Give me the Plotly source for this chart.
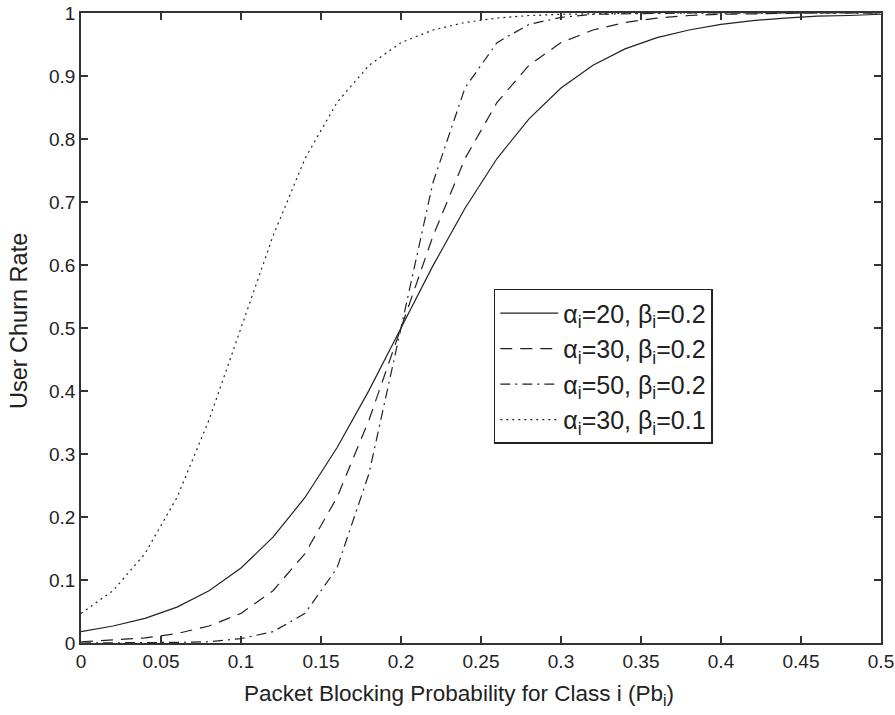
import plotly.graph_objects as go

# Data
pb = [0.00, 0.02, 0.04, 0.06, 0.08, 0.10, 0.12, 0.14, 0.16, 0.18, 0.20, 0.22, 0.24,
      0.26, 0.28, 0.30, 0.32, 0.34, 0.36, 0.38, 0.40, 0.42, 0.44, 0.46, 0.48, 0.50]

churn_a20_b02 = [0.018, 0.027, 0.039, 0.057, 0.083, 0.119, 0.168, 0.231, 0.310, 0.401,
                 0.500, 0.599, 0.690, 0.769, 0.832, 0.881, 0.917, 0.943, 0.961, 0.973,
                 0.982, 0.988, 0.992, 0.995, 0.996, 0.998]
churn_a30_b02 = [0.002, 0.005, 0.008, 0.015, 0.027, 0.047, 0.083, 0.142, 0.231, 0.354,
                 0.500, 0.646, 0.769, 0.858, 0.917, 0.953, 0.973, 0.985, 0.992, 0.996,
                 0.998, 0.999, 0.999, 1.000, 1.000, 1.000]
churn_a50_b02 = [0.000, 0.000, 0.000, 0.001, 0.002, 0.007, 0.018, 0.047, 0.119, 0.269,
                 0.500, 0.731, 0.881, 0.953, 0.982, 0.993, 0.998, 0.999, 1.000, 1.000,
                 1.000, 1.000, 1.000, 1.000, 1.000, 1.000]
churn_a30_b01 = [0.047, 0.083, 0.142, 0.231, 0.354, 0.500, 0.646, 0.769, 0.858, 0.917,
                 0.953, 0.973, 0.985, 0.992, 0.996, 0.998, 0.999, 0.999, 1.000, 1.000,
                 1.000, 1.000, 1.000, 1.000, 1.000, 1.000]

series_names = ["α<sub>i</sub>=20, β<sub>i</sub>=0.2",
                "α<sub>i</sub>=30, β<sub>i</sub>=0.2",
                "α<sub>i</sub>=50, β<sub>i</sub>=0.2",
                "α<sub>i</sub>=30, β<sub>i</sub>=0.1"]
series_values = [churn_a20_b02, churn_a30_b02, churn_a50_b02, churn_a30_b01]
series_dash = ["solid", "12px,8px", "10px,5px,2px,5px", "2px,4px"]

x_ticks = [0, 0.05, 0.1, 0.15, 0.2, 0.25, 0.3, 0.35, 0.4, 0.45, 0.5]
x_ticklabels = ["0", "0.05", "0.1", "0.15", "0.2", "0.25", "0.3", "0.35", "0.4", "0.45", "0.5"]
y_ticks = [0, 0.1, 0.2, 0.3, 0.4, 0.5, 0.6, 0.7, 0.8, 0.9, 1]
y_ticklabels = ["0", "0.1", "0.2", "0.3", "0.4", "0.5", "0.6", "0.7", "0.8", "0.9", "1"]

x_title = "Packet Blocking Probability for Class i (Pb<sub>i</sub>)"
y_title = "User Churn Rate"

ink = "#222222"
font_family = "Liberation Sans, Arial, Helvetica, sans-serif"

fig = go.Figure()
for name, vals, dash in zip(series_names, series_values, series_dash):
    fig.add_trace(go.Scatter(x=pb, y=vals, mode="lines", name=name,
                             line=dict(color=ink, width=1.2, dash=dash)))

axis_common = dict(showline=True, linecolor="#333333", linewidth=1.5, mirror="ticks",
                   ticks="inside", ticklen=7, tickwidth=1.5, tickcolor="#333333",
                   showgrid=False, zeroline=False, automargin=False,
                   tickfont=dict(size=19, color=ink, family=font_family))

fig.update_layout(
    width=895, height=715,
    margin=dict(l=81, r=14, t=13, b=72),
    paper_bgcolor="white", plot_bgcolor="white",
    font=dict(family=font_family, color=ink),
    xaxis=dict(range=[0, 0.5], tickvals=x_ticks, ticktext=x_ticklabels, **axis_common),
    yaxis=dict(range=[0, 1], tickvals=y_ticks, ticktext=y_ticklabels, **axis_common),
    legend=dict(x=0.516, y=0.562, xanchor="left", yanchor="top",
                bgcolor="white", bordercolor="#222222", borderwidth=1.5,
                font=dict(size=25, color=ink, family=font_family),
                itemwidth=58, tracegroupgap=0),
    showlegend=True,
    annotations=[
        dict(text=x_title, xref="paper", yref="paper", x=0.4725, y=0,
             xanchor="center", yanchor="top", yshift=-36, showarrow=False,
             font=dict(size=22.5, color=ink, family=font_family)),
        dict(text=y_title, xref="paper", yref="paper", x=0, y=0.511,
             xanchor="center", yanchor="middle", xshift=-62, textangle=-90,
             showarrow=False, font=dict(size=23.5, color=ink, family=font_family)),
    ],
)

fig.write_html("out.html", config={"displayModeBar": False},
               post_script="document.body.style.margin='0px';")
